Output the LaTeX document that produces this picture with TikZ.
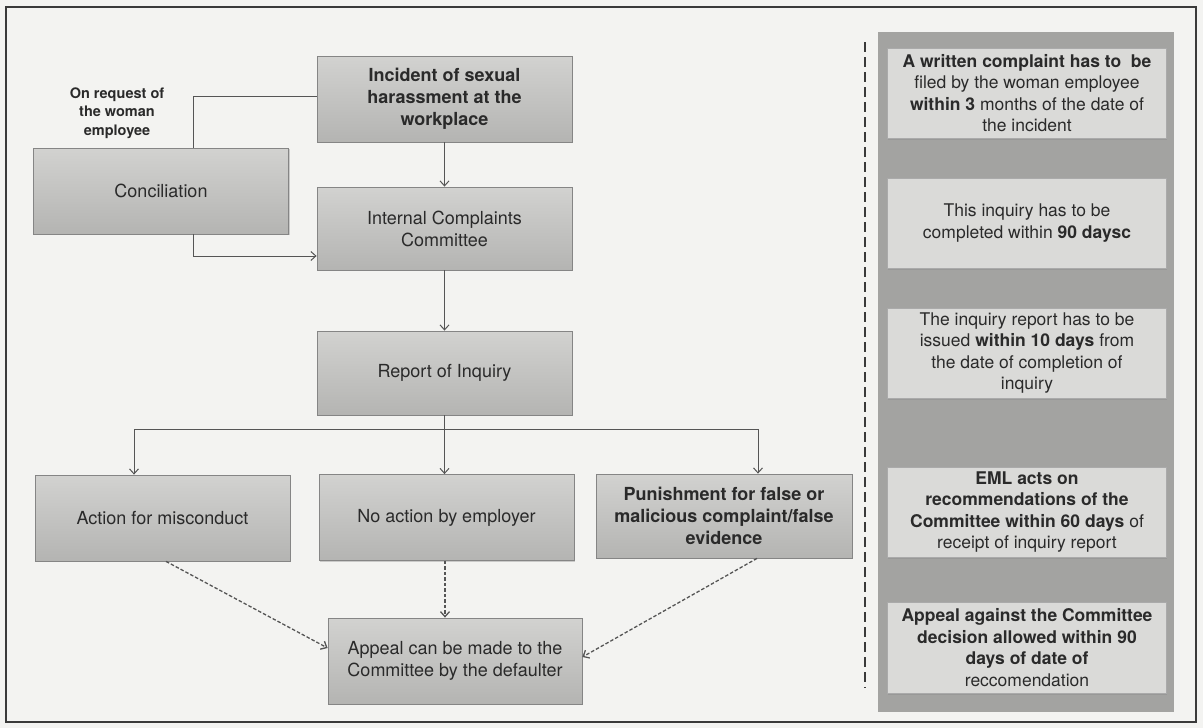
\documentclass[tikz,border=0pt]{standalone}
\usepackage{fontspec}
\setmainfont{TeX Gyre Heros}
\usetikzlibrary{arrows.meta,shadows}
\definecolor{bg}{HTML}{F3F3F1}
\definecolor{framec}{HTML}{3A3A3A}
\definecolor{boxtop}{HTML}{D2D2D0}
\definecolor{boxbot}{HTML}{B4B4B2}
\definecolor{boxline}{HTML}{858585}
\definecolor{panel}{HTML}{A3A3A1}
\definecolor{inner}{HTML}{DADAD8}
\definecolor{txt}{HTML}{2A2A2A}
\definecolor{wire}{HTML}{555555}
\begin{document}
\begin{tikzpicture}[x=1pt,y=-1pt,
  flowbox/.style={draw=boxline, line width=0.8pt, top color=boxtop, bottom color=boxbot,
    minimum width=255pt, minimum height=86pt, inner sep=2pt, align=center, text=txt,
    font=\fontsize{18}{22}\selectfont,
    drop shadow={shadow xshift=1.2pt, shadow yshift=-1.2pt, opacity=0.35}},
  notebox/.style={draw=boxline!70, line width=0.5pt, fill=inner, minimum width=279pt,
    minimum height=90pt, inner sep=2pt, align=center, text=txt,
    font=\fontsize{17.5}{21.5}\selectfont,
    drop shadow={shadow xshift=0pt, shadow yshift=-2pt, opacity=0.3}},
  conn/.style={draw=wire, line width=1pt},
  arr/.style={conn, -{Straight Barb[length=5pt,width=9pt]}},
  darr/.style={draw=wire, line width=1.3pt, dash pattern=on 3.5pt off 2pt,
    -{Straight Barb[length=5pt,width=9pt]}}
]
\useasboundingbox (0,0) rectangle (1203,728);
\fill[bg] (0,0) rectangle (1203,728);
\draw[framec, line width=1.4pt] (6,7) rectangle (1196,722);

% right panel
\fill[panel] (878,32) rectangle (1174,712);
\draw[framec, line width=2.4pt, dash pattern=on 10pt off 5pt] (865,42) -- (865,688);

% flow boxes
\node[flowbox, minimum height=86pt] (inc) at (444.5,99) {\textbf{Incident of sexual}\\\textbf{harassment at the}\\\textbf{workplace}};
\node[flowbox, minimum height=86pt] (con) at (161,191) {Conciliation};
\node[flowbox, minimum height=83pt] (icc) at (444.5,228.5) {Internal Complaints\\Committee};
\node[flowbox, minimum height=84pt] (rep) at (444.5,373) {Report of Inquiry};
\node[flowbox, minimum height=86pt] (act) at (162.5,518) {Action for misconduct};
\node[flowbox, minimum height=86pt] (noa) at (446.5,517.5) {No action by employer};
\node[flowbox, minimum height=84pt, minimum width=256pt] (pun) at (724,516) {\textbf{Punishment for false or}\\\textbf{malicious complaint/false}\\\textbf{evidence}};
\node[flowbox, minimum height=86pt, minimum width=254pt] (app) at (455,661) {Appeal can be made to the\\Committee by the defaulter};

\node[text=txt, align=center, font=\bfseries\fontsize{14.5}{18.5}\selectfont] (req) at (117,113) {On request of\\the woman\\employee};

% notes
\node[notebox] (r1) at (1027,93) {\textbf{A written complaint has to\ \ be}\\filed by the woman employee\\\textbf{within 3} months of the date of\\the incident};
\node[notebox] (r2) at (1027,223) {This inquiry has to be\\completed within \textbf{90 daysc}};
\node[notebox] (r3) at (1027,353) {The inquiry report has to be\\issued \textbf{within 10 days} from\\the date of completion of\\inquiry};
\node[notebox] (r4) at (1027,512) {\textbf{EML acts on}\\\textbf{recommendations of the}\\\textbf{Committee within 60 days} of\\receipt of inquiry report};
\node[notebox, minimum height=91pt] (r5) at (1027,647.5) {\textbf{Appeal against the Committee}\\\textbf{decision allowed within 90}\\\textbf{days of date of}\\reccomendation};

% connectors
\draw[conn] ([yshift=3pt]inc.west) -| ([xshift=32pt]con.north);
\draw[arr] ([xshift=32pt]con.south) |- ([yshift=-27.5pt]icc.west);
\draw[arr] (inc.south) -- (icc.north);
\draw[arr] (icc.south) -- (rep.north);
\coordinate (br) at (444.5,429);
\draw[conn] (rep.south) -- (br);
\draw[arr] (br) -- (br |- noa.north);
\draw[arr] (br) -| ([xshift=-28.5pt]act.north);
\draw[arr] (br) -| ([xshift=34pt]pun.north);

\draw[darr] ([xshift=3.5pt]act.south) -- ([yshift=13pt]app.west);
\draw[darr] ([xshift=-1.5pt]noa.south) -- ([xshift=-1.5pt]noa.south |- app.north);
\draw[darr] ([xshift=33pt]pun.south) -- ([yshift=4pt]app.east);
\end{tikzpicture}
\end{document}
